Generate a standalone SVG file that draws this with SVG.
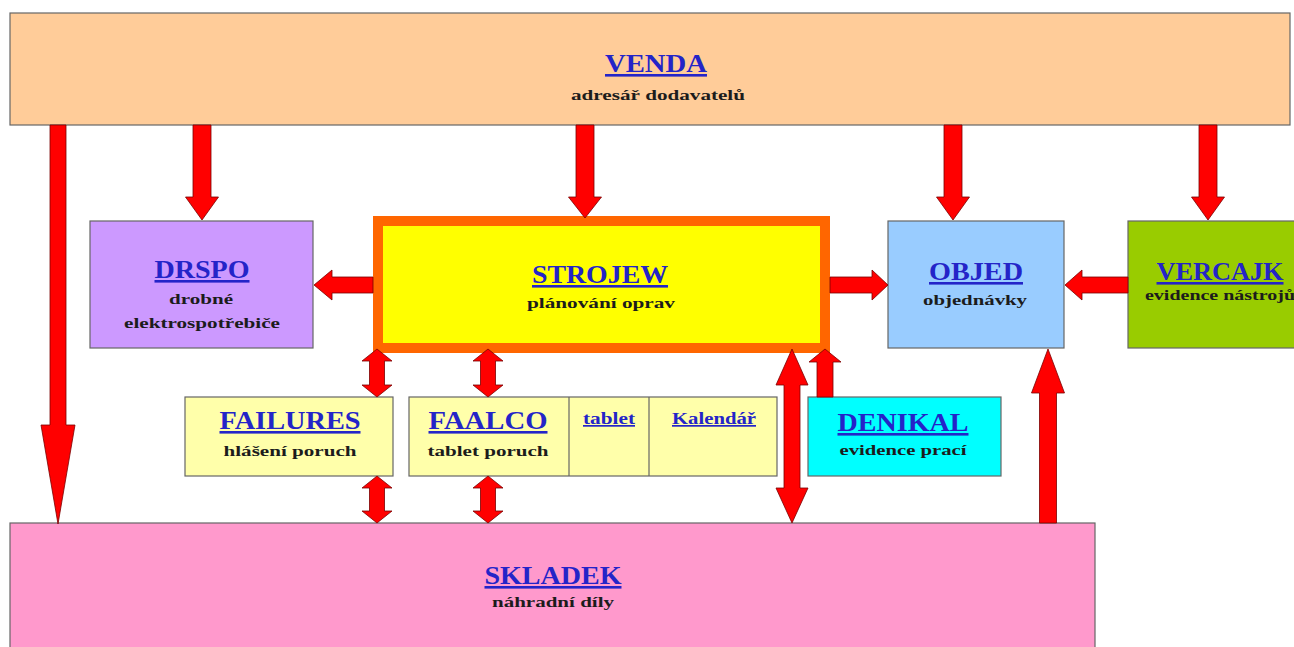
<svg xmlns="http://www.w3.org/2000/svg" width="1294" height="647" viewBox="0 0 1294 647">
<style>
.box{stroke:#666;stroke-width:1.2}
.t{font-family:"Liberation Serif","Times New Roman",serif;font-weight:bold;fill:#2424C8;text-decoration:underline;text-anchor:middle;font-size:26px}
.s{font-family:"Liberation Serif","Times New Roman",serif;font-weight:bold;fill:#1c1c1c;text-anchor:middle;font-size:15px}
.c{font-family:"Liberation Serif","Times New Roman",serif;font-weight:bold;fill:#2424C8;text-decoration:underline;text-anchor:middle;font-size:17px}
.a{fill:#FF0000;stroke:#7a0000;stroke-width:0.8;stroke-linejoin:miter}
</style>
<rect width="1294" height="647" fill="#ffffff"/>
<g id="venda">
<rect class="box" x="10" y="13" width="1280" height="112" fill="#FFCC99"/>
<text class="t" x="656" y="72" textLength="102" lengthAdjust="spacingAndGlyphs">VENDA</text>
<text class="s" x="658" y="100" textLength="174" lengthAdjust="spacingAndGlyphs">adresář dodavatelů</text>
</g>
<g id="drspo">
<rect class="box" x="90" y="221" width="223" height="127" fill="#CC99FF"/>
<text class="t" x="202" y="278" textLength="95" lengthAdjust="spacingAndGlyphs">DRSPO</text>
<text class="s" x="201" y="304" textLength="64" lengthAdjust="spacingAndGlyphs">drobné</text>
<text class="s" x="202" y="328" textLength="156" lengthAdjust="spacingAndGlyphs">elektrospotřebiče</text>
</g>
<g id="strojew">
<rect x="378" y="221" width="447" height="127" fill="#FFFF00" stroke="#FF6600" stroke-width="10"/>
<text class="t" x="600" y="283" textLength="136" lengthAdjust="spacingAndGlyphs">STROJEW</text>
<text class="s" x="601" y="308" textLength="148" lengthAdjust="spacingAndGlyphs">plánování oprav</text>
</g>
<g id="objed">
<rect class="box" x="888" y="221" width="176" height="127" fill="#99CCFF"/>
<text class="t" x="976" y="280" textLength="94" lengthAdjust="spacingAndGlyphs">OBJED</text>
<text class="s" x="975" y="305" textLength="104" lengthAdjust="spacingAndGlyphs">objednávky</text>
</g>
<g id="vercajk">
<rect class="box" x="1128" y="221" width="180" height="127" fill="#99CC00"/>
<text class="t" x="1220" y="280" textLength="127" lengthAdjust="spacingAndGlyphs">VERCAJK</text>
<text class="s" x="1220" y="300" textLength="150" lengthAdjust="spacingAndGlyphs">evidence nástrojů</text>
</g>
<g id="failures">
<rect class="box" x="185" y="397" width="208" height="79" fill="#FFFFAA"/>
<text class="t" x="290" y="429" textLength="141" lengthAdjust="spacingAndGlyphs">FAILURES</text>
<text class="s" x="290" y="456" textLength="133" lengthAdjust="spacingAndGlyphs">hlášení poruch</text>
</g>
<g id="faalco">
<rect class="box" x="409" y="397" width="368" height="79" fill="#FFFFAA"/>
<line x1="569" y1="397" x2="569" y2="476" stroke="#666" stroke-width="1.2"/>
<line x1="649" y1="397" x2="649" y2="476" stroke="#666" stroke-width="1.2"/>
<text class="t" x="488" y="429" textLength="119" lengthAdjust="spacingAndGlyphs">FAALCO</text>
<text class="s" x="488" y="456" textLength="121" lengthAdjust="spacingAndGlyphs">tablet poruch</text>
<text class="c" x="609" y="424" textLength="52" lengthAdjust="spacingAndGlyphs">tablet</text>
<text class="c" x="714" y="424" textLength="84" lengthAdjust="spacingAndGlyphs">Kalendář</text>
</g>
<g id="denikal">
<rect class="box" x="808" y="397" width="193" height="79" fill="#00FFFF"/>
<text class="t" x="903" y="431" textLength="131" lengthAdjust="spacingAndGlyphs">DENIKAL</text>
<text class="s" x="903" y="455" textLength="127" lengthAdjust="spacingAndGlyphs">evidence prací</text>
</g>
<g id="skladek">
<rect class="box" x="10" y="523" width="1085" height="140" fill="#FF99CC"/>
<text class="t" x="553" y="584" textLength="137" lengthAdjust="spacingAndGlyphs">SKLADEK</text>
<text class="s" x="553" y="607" textLength="122" lengthAdjust="spacingAndGlyphs">náhradní díly</text>
</g>
<g id="connectors">
<polygon class="a" points="50,125 66,125 66,425 75,425 58,524 41,425 50,425"/>
<polygon class="a" points="193,125 211,125 211,197 218.5,197 202,220 185.5,197 193,197"/>
<polygon class="a" points="576,125 594,125 594,197 601.5,197 585,218 568.5,197 576,197"/>
<polygon class="a" points="944,125 962,125 962,197 969.5,197 953,220 936.5,197 944,197"/>
<polygon class="a" points="1199,125 1217,125 1217,197 1224.5,197 1208,220 1191.5,197 1199,197"/>
<polygon class="a" points="373,277 373,293 332,293 332,300 314,285 332,270 332,277"/>
<polygon class="a" points="830,277 872,277 872,270 888,285 872,300 872,293 830,293"/>
<polygon class="a" points="1128,277 1128,293 1082,293 1082,300 1065,285 1082,270 1082,277"/>
<polygon class="a" points="377,349 392,361 384.5,361 384.5,385 392,385 377,397 362,385 369.5,385 369.5,361 362,361"/>
<polygon class="a" points="488,349 503,361 495.5,361 495.5,385 503,385 488,397 473,385 480.5,385 480.5,361 473,361"/>
<polygon class="a" points="377,476 392,488 384.5,488 384.5,511 392,511 377,523 362,511 369.5,511 369.5,488 362,488"/>
<polygon class="a" points="488,476 503,488 495.5,488 495.5,511 503,511 488,523 473,511 480.5,511 480.5,488 473,488"/>
<polygon class="a" points="792,349 808,385 800,385 800,488 808,488 792,523 776,488 784,488 784,385 776,385"/>
<polygon class="a" points="825,349 841,362 833,362 833,397 817,397 817,362 809,362"/>
<polygon class="a" points="1048,349 1064.5,393 1056.5,393 1056.5,523 1039.5,523 1039.5,393 1031.5,393"/>
</g>
</svg>
